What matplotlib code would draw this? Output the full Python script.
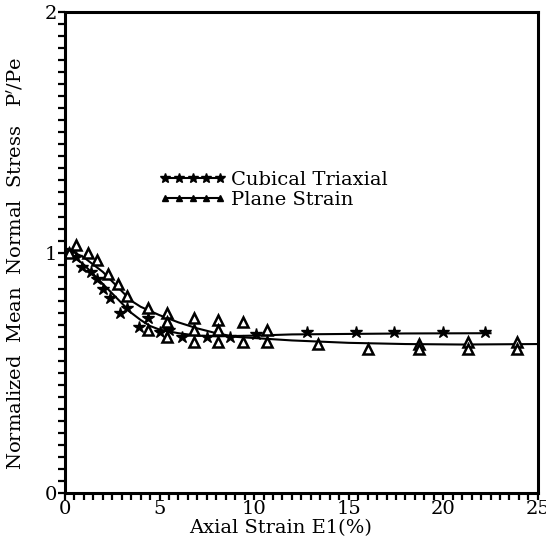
import numpy as np
import matplotlib
matplotlib.use('Agg')
import matplotlib.pyplot as plt
from matplotlib.lines import Line2D
from matplotlib.ticker import MultipleLocator

plt.rcParams['font.family'] = ['DejaVu Serif']

# measured points - cubical triaxial (filled)
cub_x = [0.2, 0.6, 0.9, 1.4, 1.7, 2.0, 2.4, 2.9, 3.3, 3.9, 4.4, 5.0, 5.5, 6.2,
         7.5, 8.7, 10.1, 12.8, 15.4, 17.4, 20.0, 22.2]
cub_y = [1.00, 0.98, 0.94, 0.92, 0.89, 0.85, 0.81, 0.75, 0.77, 0.69, 0.73, 0.67,
         0.68, 0.65, 0.65, 0.65, 0.66, 0.67, 0.67, 0.67, 0.67, 0.67]

# measured points - plane strain (open triangles)
ps_x = [0.2, 0.6, 1.2, 1.7, 2.3, 2.8, 3.3, 4.4, 4.4, 5.4, 5.4, 5.4, 6.8, 6.8, 6.8,
        8.1, 8.1, 8.1, 9.4, 9.4, 10.7, 10.7, 13.4, 16.0, 18.7, 18.7, 21.3, 21.3,
        23.9, 23.9]
ps_y = [1.00, 1.03, 1.00, 0.97, 0.91, 0.87, 0.82, 0.77, 0.68, 0.75, 0.71, 0.65,
        0.73, 0.68, 0.63, 0.72, 0.68, 0.63, 0.71, 0.63, 0.68, 0.63, 0.62, 0.60,
        0.62, 0.60, 0.63, 0.60, 0.63, 0.60]

# fitted curves
cub_fit_x = [0, 0.5, 1, 1.5, 2, 2.5, 3, 3.5, 4, 4.5, 5, 6, 7, 8, 10, 12, 15, 18, 22.5]
cub_fit_y = [1.00, 0.98, 0.95, 0.91, 0.87, 0.83, 0.79, 0.75, 0.72, 0.695, 0.68,
             0.665, 0.655, 0.652, 0.655, 0.66, 0.662, 0.664, 0.665]
ps_fit_x = [0, 0.5, 1, 1.5, 2, 2.5, 3, 3.5, 4, 5, 6, 7, 8, 9, 10, 12, 15, 18, 21, 25]
ps_fit_y = [1.02, 1.00, 0.98, 0.95, 0.92, 0.88, 0.84, 0.80, 0.775, 0.74, 0.71,
            0.685, 0.665, 0.65, 0.645, 0.635, 0.625, 0.62, 0.618, 0.62]

fig = plt.figure(figsize=(5.46, 5.45), dpi=100)
ax = fig.add_axes([0.119, 0.095, 0.866, 0.883])

ax.plot(cub_fit_x, cub_fit_y, color='black', lw=1.5)
ax.plot(ps_fit_x, ps_fit_y, color='black', lw=1.5)
ax.plot(cub_x, cub_y, linestyle='none', marker='*', ms=9, color='black')
ax.plot(ps_x, ps_y, linestyle='none', marker='^', ms=7, mfc='white',
        mec='black', mew=1.8)

ax.set_xlim(0, 25)
ax.set_ylim(0, 2)
ax.xaxis.set_major_locator(MultipleLocator(5))
ax.xaxis.set_minor_locator(MultipleLocator(0.5))
ax.yaxis.set_major_locator(MultipleLocator(1))
ax.yaxis.set_minor_locator(MultipleLocator(0.05))
ax.tick_params(which='both', direction='out', length=5, width=1.6, labelsize=14)
ax.tick_params(axis='x', pad=0)
ax.tick_params(axis='y', pad=1)
for s in ax.spines.values():
    s.set_linewidth(2.2)

ax.set_xlabel('Axial Strain E1(%)', fontsize=14)
ax.xaxis.set_label_coords(0.455, -0.053)
ax.set_ylabel("Normalized  Mean  Normal  Stress   P$'$/Pe", fontsize=14)
ax.yaxis.set_label_coords(-0.085, 0.478)

handles = [
    Line2D([], [], color='black', lw=1.5, marker='*', ms=7),
    Line2D([], [], color='black', lw=1.5, marker='^', ms=5, mfc='black',
           mec='black', mew=1.0),
]
ax.legend(handles, ['Cubical Triaxial', 'Plane Strain'], loc='upper left',
          bbox_to_anchor=(0.2, 0.67), numpoints=5, handlelength=3.4,
          handletextpad=0.3, labelspacing=0.1, frameon=False, fontsize=14,
          borderpad=0, borderaxespad=0)

fig.savefig('out.png', dpi=100)
